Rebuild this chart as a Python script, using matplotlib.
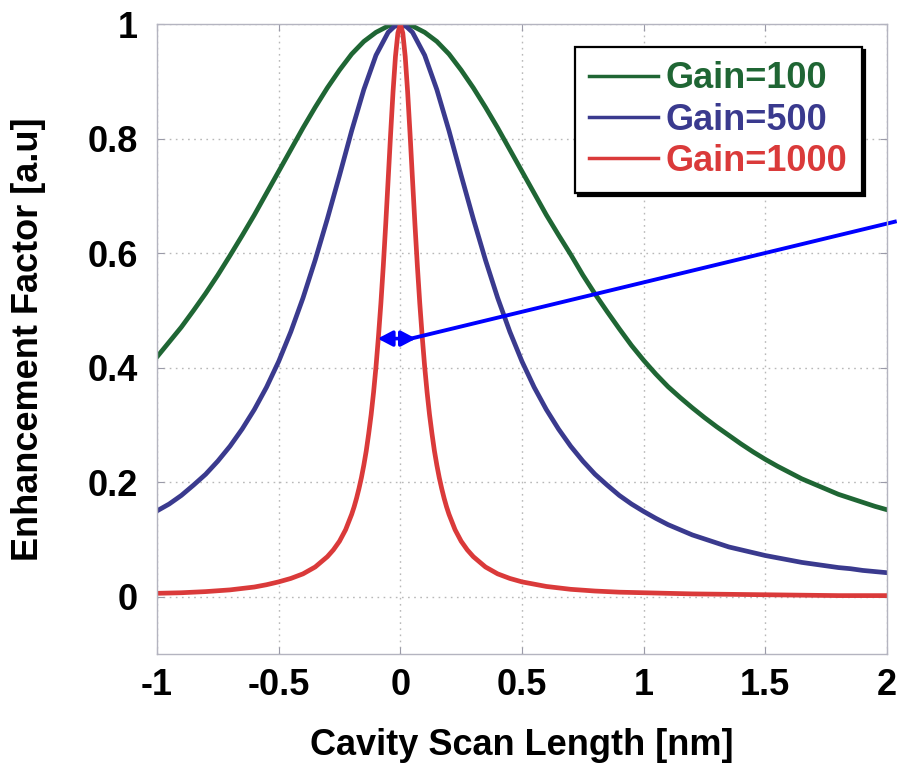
import matplotlib
matplotlib.use("Agg")
import matplotlib.pyplot as plt

# ---------------- data ----------------
green_x = [-1.0, -0.95, -0.9, -0.85, -0.8, -0.75, -0.7, -0.65, -0.6, -0.55,
           -0.5, -0.45, -0.4, -0.35, -0.3, -0.25, -0.2, -0.15, -0.1, -0.05,
           0.0,
           0.05, 0.1, 0.15, 0.2, 0.25, 0.3, 0.35, 0.4, 0.45, 0.5,
           0.55, 0.6, 0.65, 0.7, 0.75, 0.8, 0.85, 0.9, 0.95, 1.0,
           1.05, 1.1, 1.15, 1.2, 1.25, 1.3, 1.35, 1.4, 1.45, 1.5,
           1.55, 1.6, 1.65, 1.7, 1.75, 1.8, 1.85, 1.9, 1.95, 2.0]
green_y = [0.419, 0.445, 0.471, 0.500, 0.530, 0.562, 0.596, 0.631, 0.667, 0.705,
           0.743, 0.781, 0.819, 0.855, 0.889, 0.920, 0.948, 0.970, 0.986, 0.997,
           1.0,
           0.997, 0.986, 0.970, 0.948, 0.920, 0.889, 0.855, 0.819, 0.781, 0.743,
           0.705, 0.667, 0.632, 0.598, 0.562, 0.529, 0.498, 0.468, 0.439, 0.413,
           0.389, 0.367, 0.348, 0.330, 0.313, 0.297, 0.282, 0.267, 0.253, 0.240,
           0.228, 0.217, 0.206, 0.197, 0.188, 0.179, 0.172, 0.165, 0.158, 0.152]

blue_x = [-1.0, -0.95, -0.9, -0.85, -0.8, -0.75, -0.7, -0.65, -0.6, -0.55,
          -0.5, -0.45, -0.4, -0.35, -0.3, -0.25, -0.2, -0.15, -0.1, -0.05,
          -0.025, 0.0, 0.025,
          0.05, 0.1, 0.15, 0.2, 0.25, 0.3, 0.35, 0.4, 0.45, 0.5,
          0.55, 0.6, 0.65, 0.7, 0.75, 0.8, 0.85, 0.9, 0.95, 1.0,
          1.05, 1.1, 1.15, 1.2, 1.25, 1.3, 1.35, 1.4, 1.45, 1.5,
          1.55, 1.6, 1.65, 1.7, 1.75, 1.8, 1.85, 1.9, 1.95, 2.0]
blue_y = [0.150, 0.162, 0.177, 0.195, 0.214, 0.237, 0.263, 0.293, 0.327, 0.366,
          0.411, 0.463, 0.522, 0.588, 0.660, 0.736, 0.814, 0.886, 0.946, 0.986,
          0.996, 1.0, 0.996,
          0.986, 0.946, 0.886, 0.814, 0.736, 0.660, 0.588, 0.522, 0.463, 0.411,
          0.366, 0.327, 0.293, 0.263, 0.237, 0.214, 0.195, 0.177, 0.162, 0.149,
          0.137, 0.126, 0.117, 0.108, 0.101, 0.094, 0.087, 0.082, 0.077, 0.072,
          0.068, 0.064, 0.060, 0.057, 0.054, 0.051, 0.049, 0.046, 0.044, 0.042]

red_x = [-1.0, -0.9, -0.8, -0.7, -0.6, -0.55, -0.5, -0.45, -0.4, -0.35,
         -0.3, -0.275, -0.25, -0.225, -0.2,
         -0.19, -0.18, -0.17, -0.16, -0.15, -0.14, -0.13, -0.12, -0.11, -0.1,
         -0.09, -0.08, -0.07, -0.06, -0.05, -0.04, -0.03, -0.02, -0.01,
         0.0,
         0.01, 0.02, 0.03, 0.04, 0.05, 0.06, 0.07, 0.08, 0.09, 0.1,
         0.11, 0.12, 0.13, 0.14, 0.15, 0.16, 0.17, 0.18, 0.19, 0.2,
         0.225, 0.25, 0.275, 0.3, 0.35, 0.4, 0.45, 0.5, 0.55, 0.6,
         0.7, 0.8, 0.9, 1.0, 1.2, 1.4, 1.6, 1.8, 2.0]
red_y = [0.006, 0.007, 0.009, 0.012, 0.017, 0.021, 0.026, 0.032, 0.040, 0.052,
         0.070, 0.082, 0.097, 0.117, 0.144,
         0.157, 0.172, 0.189, 0.208, 0.230, 0.255, 0.285, 0.318, 0.357, 0.402,
         0.454, 0.512, 0.578, 0.651, 0.729, 0.808, 0.882, 0.944, 0.985,
         1.0,
         0.985, 0.944, 0.882, 0.808, 0.729, 0.651, 0.578, 0.512, 0.454, 0.402,
         0.357, 0.318, 0.285, 0.255, 0.230, 0.208, 0.189, 0.172, 0.157, 0.144,
         0.117, 0.097, 0.082, 0.070, 0.052, 0.040, 0.032, 0.026, 0.022, 0.018,
         0.013, 0.010, 0.008, 0.007, 0.005, 0.004, 0.003, 0.002, 0.002]

series_labels = ["Gain=100", "Gain=500", "Gain=1000"]
x_ticks = [-1, -0.5, 0, 0.5, 1, 1.5, 2]
x_ticklabels = ["-1", "-0.5", "0", "0.5", "1", "1.5", "2"]
y_ticks = [0, 0.2, 0.4, 0.6, 0.8, 1]
y_ticklabels = ["0", "0.2", "0.4", "0.6", "0.8", "1"]
x_label = "Cavity Scan Length [nm]"
y_label = "Enhancement Factor [a.u]"

# FWHM marker annotation (data coordinates)
fwhm_left, fwhm_right, fwhm_level = -0.093, 0.064, 0.451
pointer_end = (2.04, 0.656)

# ---------------- styling ----------------
GREEN = "#1f6634"
BLUE = "#3a3a8e"
RED = "#da3a3a"
ARROW = "#0000ff"
FS = 26

plt.rcParams["font.family"] = ["Liberation Sans", "DejaVu Sans"]
plt.rcParams["font.weight"] = "bold"

fig = plt.figure(figsize=(8.97, 7.65), dpi=100)
ax = fig.add_axes([157 / 897, 1 - 654 / 765, (887 - 157) / 897, (654 - 24.3) / 765])

lw = 3.4
ax.plot(green_x, green_y, color=GREEN, lw=lw, label=series_labels[0], solid_joinstyle="round")
ax.plot(blue_x, blue_y, color=BLUE, lw=lw, label=series_labels[1], solid_joinstyle="round")
ax.plot(red_x, red_y, color=RED, lw=lw, label=series_labels[2], solid_joinstyle="round")

ax.set_xlim(-1, 2)
ax.set_ylim(-0.1, 1)
ax.set_xticks(x_ticks)
ax.set_xticklabels(x_ticklabels)
ax.set_yticks(y_ticks)
ax.set_yticklabels(y_ticklabels)

ax.grid(True, color="#b8b8b8", linestyle=(0, (1.2, 3.2)), lw=1.0)
for s in ax.spines.values():
    s.set_color("#b4b4c0")
    s.set_linewidth(1.0)
ax.tick_params(axis="both", which="both", direction="in", length=5, width=0.8,
               color="#9a9aa8", top=True, right=True, labelsize=FS)
ax.tick_params(axis="x", pad=10)
ax.tick_params(axis="y", pad=14)
for t in ax.get_xticklabels() + ax.get_yticklabels():
    t.set_fontweight("bold")

ax.set_xlabel(x_label, fontsize=FS, fontweight="bold", labelpad=18)
ax.set_ylabel(y_label, fontsize=FS, fontweight="bold", labelpad=30)

# FWHM double arrow and pointer line
ax.annotate("", xy=(fwhm_left, fwhm_level), xytext=(fwhm_right, fwhm_level),
            arrowprops=dict(arrowstyle="<|-|>,head_length=0.8,head_width=0.42",
                            color=ARROW, lw=2.6, shrinkA=0, shrinkB=0,
                            mutation_scale=11))
ax.plot([fwhm_right - 0.02, pointer_end[0]], [fwhm_level, pointer_end[1]],
        color=ARROW, lw=2.8, clip_on=False, solid_capstyle="butt")

leg = ax.legend(loc="upper right", bbox_to_anchor=((862 - 157) / 730, (654 - 47) / (654 - 24.3)),
                fontsize=FS, frameon=True, fancybox=False,
                shadow={"color": "black", "alpha": 1.0},
                handlelength=1.9, handletextpad=0.22, labelspacing=0.17,
                borderpad=0.4, borderaxespad=0.0)
leg.get_frame().set_edgecolor("black")
leg.get_frame().set_linewidth(1.6)
for txt, col in zip(leg.get_texts(), [GREEN, BLUE, RED]):
    txt.set_color(col)
    txt.set_fontweight("bold")
for h in leg.get_lines():
    h.set_linewidth(2.5)

fig.savefig("out.png", dpi=100)
